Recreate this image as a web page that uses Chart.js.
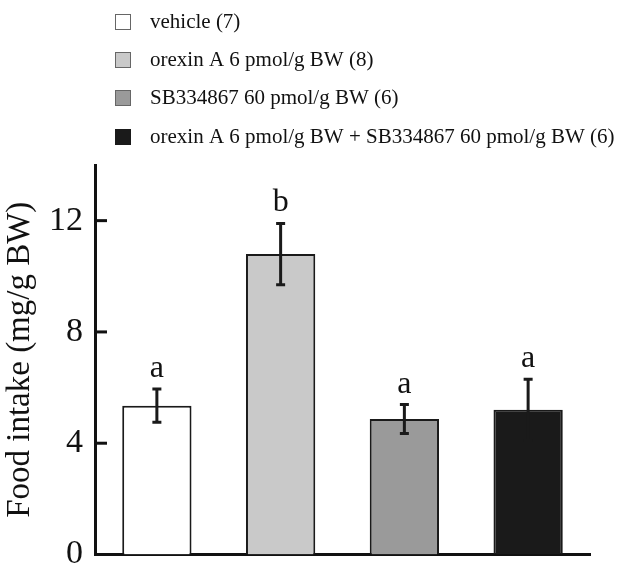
<!DOCTYPE html>
<html><head><meta charset="utf-8">
<script src="https://cdn.jsdelivr.net/npm/chart.js@4/dist/chart.umd.min.js"></script>
<style>html,body{margin:0;padding:0;background:#fff}#wrap{width:638px;height:575px;position:relative}</style>
</head><body><div id="wrap"><canvas id="c" width="638" height="575"></canvas></div>
<script>
const categories = ['vehicle (7)', 'orexin A 6 pmol/g BW (8)', 'SB334867 60 pmol/g BW (6)', 'orexin A 6 pmol/g BW + SB334867 60 pmol/g BW (6)'];
const foodIntake = [5.35, 10.8, 4.87, 5.2];
const sem = [0.6, 1.1, 0.52, 1.1];
const letters = ['a', 'b', 'a', 'a'];
const yTicks = [0, 4, 8, 12];
const barColors = ['#ffffff', '#c9c9c9', '#9a9a9a', '#1a1a1a'];

const SERIF = '"Liberation Serif", "Times New Roman", serif';

const extras = {
  id: 'extras',
  afterDatasetsDraw(chart) {
    const ctx = chart.ctx;
    const y = chart.scales.y;
    const meta = chart.getDatasetMeta(0);
    ctx.save();
    // error bars
    meta.data.forEach((bar, i) => {
      const x = bar.x;
      const top = y.getPixelForValue(foodIntake[i] + sem[i]);
      const bot = y.getPixelForValue(foodIntake[i] - sem[i]);
      ctx.strokeStyle = '#1a1a1a';
      ctx.lineWidth = 3;
      ctx.beginPath();
      ctx.moveTo(x, top); ctx.lineTo(x, bot);
      ctx.moveTo(x - 4.5, top); ctx.lineTo(x + 4.5, top);
      ctx.moveTo(x - 4.5, bot); ctx.lineTo(x + 4.5, bot);
      ctx.stroke();
      ctx.fillStyle = '#111';
      ctx.font = '32px ' + SERIF;
      ctx.textAlign = 'center';
      ctx.textBaseline = 'alphabetic';
      ctx.fillText(letters[i], x, top - 12);
    });
    // inward ticks
    const left = chart.chartArea.left;
    ctx.strokeStyle = '#111';
    ctx.lineWidth = 3;
    yTicks.forEach(v => {
      const py = y.getPixelForValue(v);
      ctx.beginPath();
      ctx.moveTo(left, py); ctx.lineTo(left + 12, py);
      ctx.stroke();
    });
    // legend
    const rows = [22, 60, 98, 137];
    ctx.font = '21px ' + SERIF;
    ctx.textAlign = 'left';
    ctx.textBaseline = 'middle';
    categories.forEach((lab, i) => {
      const cy = rows[i];
      ctx.fillStyle = barColors[i];
      ctx.fillRect(115, cy - 8, 16, 16);
      ctx.strokeStyle = i === 3 ? '#1a1a1a' : '#666';
      ctx.lineWidth = 1;
      ctx.strokeRect(115.5, cy - 7.5, 15, 15);
      ctx.fillStyle = '#111';
      ctx.fillText(lab, 150, cy);
    });
    ctx.restore();
  }
};

new Chart(document.getElementById('c'), {
  type: 'bar',
  data: {
    labels: categories,
    datasets: [{
      data: foodIntake,
      backgroundColor: barColors,
      borderColor: '#1a1a1a',
      borderWidth: 2,
      borderSkipped: 'bottom',
      categoryPercentage: 1,
      barPercentage: 0.56
    }]
  },
  options: {
    responsive: false,
    animation: false,
    layout: { padding: { left: 0, right: 48, top: 165, bottom: 20 } },
    plugins: { legend: { display: false }, tooltip: { enabled: false } },
    scales: {
      x: {
        ticks: { display: false },
        grid: { display: false, drawTicks: false },
        border: { display: true, color: '#111', width: 3 }
      },
      y: {
        min: 0, max: 14,
        afterBuildTicks: s => { s.ticks = yTicks.map(v => ({ value: v })); },
        ticks: { color: '#111', font: { family: SERIF, size: 34, lineHeight: 0.5 }, padding: 12 },
        grid: { display: false, drawTicks: false },
        border: { display: true, color: '#111', width: 3 },
        title: { display: true, text: 'Food intake (mg/g BW)', color: '#111', font: { family: SERIF, size: 33, lineHeight: 1 }, padding: { top: 4, bottom: 0 } }
      }
    }
  },
  plugins: [extras]
});
</script></body></html>
